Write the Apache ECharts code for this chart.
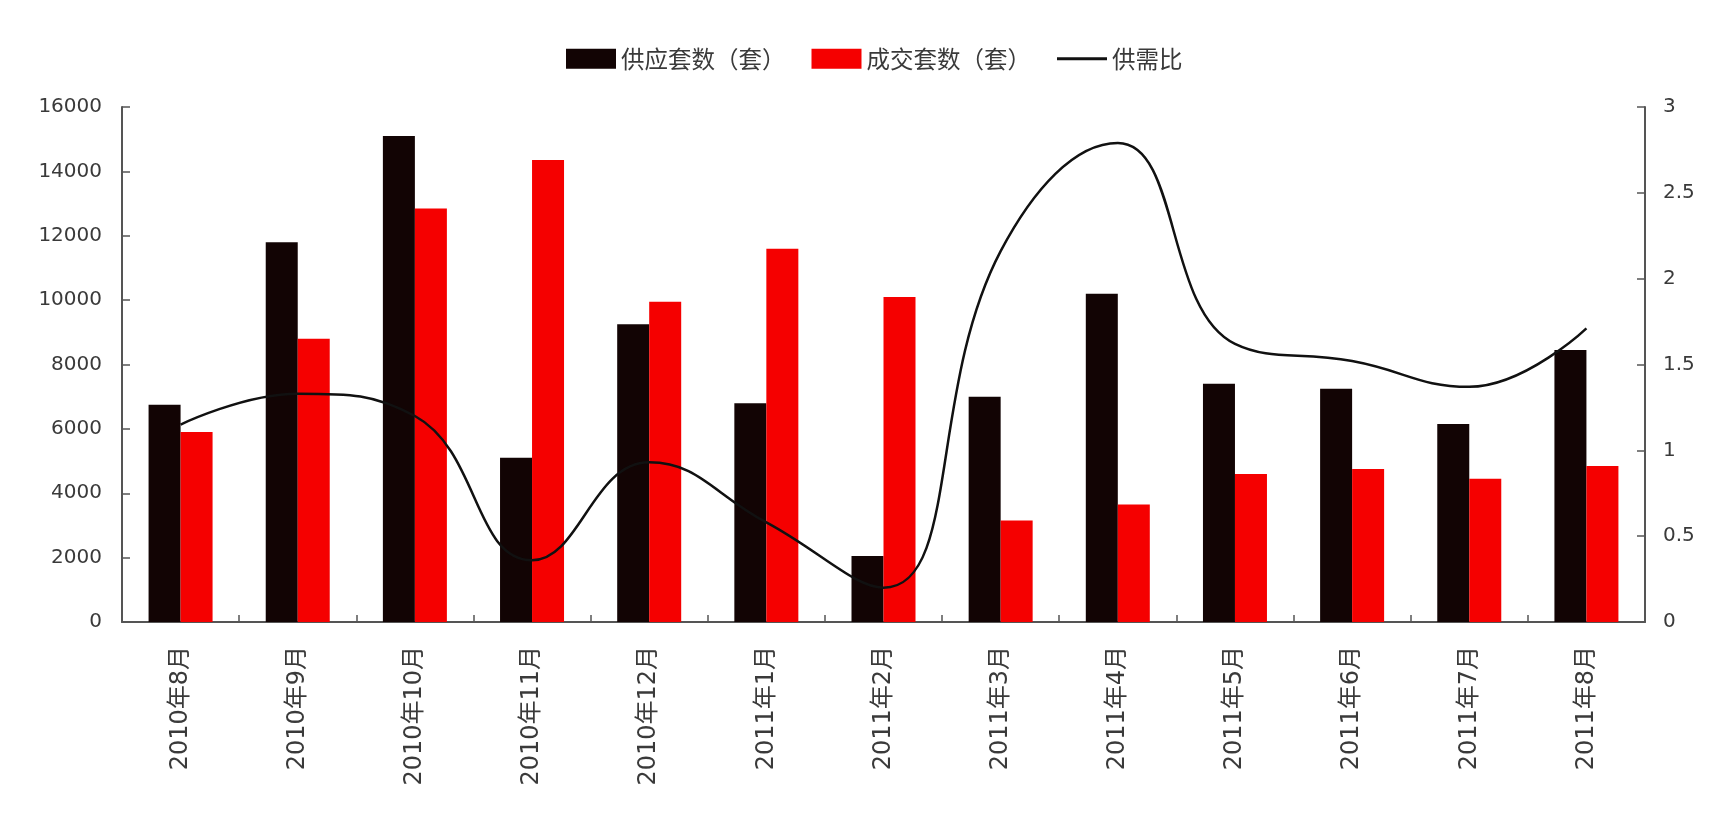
<!DOCTYPE html>
<html>
<head>
<meta charset="utf-8">
<title>供应套数与成交套数</title>
<script src="https://cdn.jsdelivr.net/npm/echarts@6/dist/echarts.min.js"></script>
<style>
  html, body { margin: 0; padding: 0; background: #ffffff; }
  #chart { width: 1723px; height: 822px; }
</style>
</head>
<body>
<div id="chart"></div>
<script>
// Monthly supply vs. transactions, with the supply/demand ratio on the right axis
const months = ['2010年8月', '2010年9月', '2010年10月', '2010年11月', '2010年12月',
  '2011年1月', '2011年2月', '2011年3月', '2011年4月', '2011年5月', '2011年6月',
  '2011年7月', '2011年8月'];
const supplyUnits = [6750, 11800, 15100, 5100, 9250, 6800, 2050, 7000, 10200, 7400, 7250, 6150, 8450];
const dealUnits = [5900, 8800, 12850, 14350, 9950, 11600, 10100, 3150, 3650, 4600, 4750, 4450, 4850];
const ratio = [1.15, 1.33, 1.2, 0.36, 0.93, 0.58, 0.2, 2.16, 2.79, 1.62, 1.52, 1.37, 1.71];
const leftTicks = { min: 0, max: 16000, interval: 2000 };
const rightTicks = { min: 0, max: 3, interval: 0.5 };

const FONT = "'DejaVu Sans', 'Noto Sans CJK SC', sans-serif";
const TEXT = '#3a3a3a';
const AXIS = '#555555';

const chart = echarts.init(document.getElementById('chart'), null, { renderer: 'canvas' });

chart.setOption({
  backgroundColor: '#ffffff',
  animation: false,
  legend: {
    left: 561,
    top: 42,
    itemWidth: 50,
    itemHeight: 20,
    itemGap: 26,
    textStyle: { fontSize: 23.5, color: TEXT, fontFamily: "'Noto Sans CJK SC', sans-serif" },
    data: [
      { name: '供应套数（套）', icon: 'rect' },
      { name: '成交套数（套）', icon: 'rect' },
      { name: '供需比', icon: 'path://M0,0 L50,0 L50,3 L0,3 Z' }
    ]
  },
  grid: { left: 122, right: 78, top: 107, bottom: 200, containLabel: false },
  xAxis: {
    type: 'category',
    data: months,
    boundaryGap: true,
    axisLine: { lineStyle: { color: AXIS, width: 2 } },
    axisTick: { show: true, inside: true, length: 7, alignWithLabel: false, lineStyle: { color: AXIS, width: 1.5 } },
    axisLabel: { rotate: 90, margin: 24, fontSize: 24, color: TEXT, fontFamily: FONT, interval: 0 },
    splitLine: { show: false }
  },
  yAxis: [
    {
      type: 'value',
      min: leftTicks.min, max: leftTicks.max, interval: leftTicks.interval,
      axisLine: { show: true, lineStyle: { color: AXIS, width: 2 } },
      axisTick: { show: true, inside: true, length: 8, lineStyle: { color: AXIS, width: 1.5 } },
      axisLabel: { margin: 20, fontSize: 20, color: TEXT, fontFamily: FONT, formatter: (v) => String(v) },
      splitLine: { show: false }
    },
    {
      type: 'value',
      min: rightTicks.min, max: rightTicks.max, interval: rightTicks.interval,
      position: 'right',
      axisLine: { show: true, lineStyle: { color: AXIS, width: 2 } },
      axisTick: { show: true, inside: true, length: 8, lineStyle: { color: AXIS, width: 1.5 } },
      axisLabel: { margin: 18, fontSize: 20, color: TEXT, fontFamily: FONT, formatter: (v) => String(v) },
      splitLine: { show: false }
    }
  ],
  series: [
    {
      name: '供应套数（套）',
      type: 'bar',
      data: supplyUnits,
      barWidth: 32,
      barGap: '0%',
      itemStyle: { color: '#120404' }
    },
    {
      name: '成交套数（套）',
      type: 'bar',
      data: dealUnits,
      barWidth: 32,
      barGap: '0%',
      itemStyle: { color: '#f50000' }
    },
    {
      name: '供需比',
      type: 'line',
      yAxisIndex: 1,
      data: ratio,
      smooth: 0.45,
      showSymbol: false,
      symbol: 'none',
      lineStyle: { color: '#111111', width: 2.5 },
      itemStyle: { color: '#111111' },
      z: 5
    }
  ]
});
</script>
</body>
</html>
